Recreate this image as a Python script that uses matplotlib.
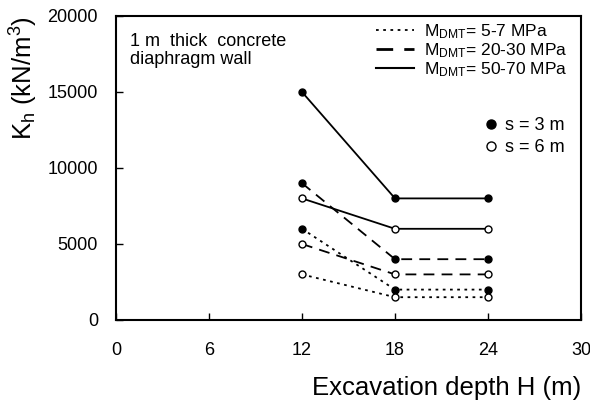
import numpy as np
import matplotlib
matplotlib.use('Agg')
import matplotlib.pyplot as plt
from matplotlib.lines import Line2D

plt.rcParams['font.family'] = ['Liberation Sans', 'DejaVu Sans']
plt.rcParams['mathtext.fontset'] = 'custom'
plt.rcParams['mathtext.rm'] = 'Liberation Sans'
plt.rcParams['mathtext.it'] = 'Liberation Sans'

# Data
depth = [12, 18, 24]
kh_5_7_s3 = [6000, 2000, 2000]
kh_5_7_s6 = [3000, 1500, 1500]
kh_20_30_s3 = [9000, 4000, 4000]
kh_20_30_s6 = [5000, 3000, 3000]
kh_50_70_s3 = [15000, 8000, 8000]
kh_50_70_s6 = [8000, 6000, 6000]

mdmt_labels = ['M$_{\\mathrm{DMT}}$= 5-7 MPa',
               'M$_{\\mathrm{DMT}}$= 20-30 MPa',
               'M$_{\\mathrm{DMT}}$= 50-70 MPa']
spacing_labels = ['s = 3 m', 's = 6 m']

fig = plt.figure(figsize=(5.9, 4.08), dpi=100)
ax = fig.add_axes([116/590, 88/408, 465/590, 304/408])

dot = (0, (1.5, 2.5))
dash = (0, (6, 4))
styles = [(kh_5_7_s3, dot, 'k'), (kh_5_7_s6, dot, 'w'),
          (kh_20_30_s3, dash, 'k'), (kh_20_30_s6, dash, 'w'),
          (kh_50_70_s3, '-', 'k'), (kh_50_70_s6, '-', 'w')]
for vals, ls, fc in styles:
    ax.plot(depth, vals, color='k', linestyle=ls, lw=1.3, marker='o',
            ms=5, mfc=fc, mec='k', mew=1)

ax.set_xlim(0, 30)
ax.set_ylim(0, 20000)
ax.set_xticks(np.arange(0, 31, 6))
ax.set_yticks(np.arange(0, 20001, 5000))
ax.tick_params(direction='in', length=5, width=1, labelsize=13)
ax.tick_params(axis='x', pad=16)
ax.tick_params(axis='y', pad=13)
for sp in ax.spines.values():
    sp.set_linewidth(1.5)

ax.set_xlabel('Excavation depth H (m)', fontsize=18.5, loc='right', labelpad=12)
ax.set_ylabel('K$_{\\mathrm{h}}$ (kN/m$^{\\mathrm{3}}$)', fontsize=18.5, loc='top', labelpad=5)

ax.text(0.03, 0.945, '1 m  thick  concrete\ndiaphragm wall', transform=ax.transAxes,
        fontsize=13, va='top', ha='left', linespacing=1.1)

line_handles = [Line2D([], [], color='k', linestyle=dot, lw=1.3),
                Line2D([], [], color='k', linestyle=dash, lw=2),
                Line2D([], [], color='k', linestyle='-', lw=1.5)]
leg1 = ax.legend(line_handles, mdmt_labels, loc='upper right',
                 bbox_to_anchor=(1.005, 1.03), frameon=False, fontsize=12.5,
                 handlelength=2.2, handletextpad=0.6, labelspacing=0.0)
ax.add_artist(leg1)

marker_handles = [Line2D([], [], color='k', linestyle='none', marker='o', ms=6.5, mfc='k'),
                  Line2D([], [], color='k', linestyle='none', marker='o', ms=6.5, mfc='w')]
ax.legend(marker_handles, spacing_labels, loc='upper right',
          bbox_to_anchor=(1.0, 0.72), frameon=False, fontsize=13,
          handlelength=0.8, handletextpad=0.4, labelspacing=0.25)

fig.savefig('out.png', dpi=100)
